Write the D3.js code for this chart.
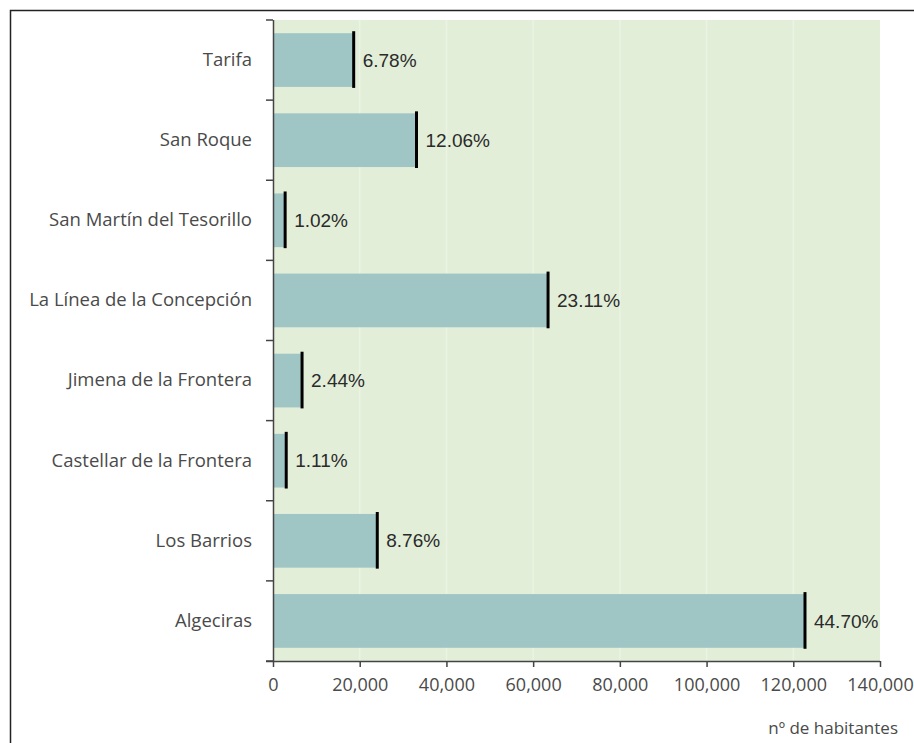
<!DOCTYPE html>
<html>
<head>
<meta charset="utf-8">
<script src="https://cdn.jsdelivr.net/npm/d3@7"></script>
<style>
  body { margin: 0; background: #fff; }
  svg { display: block; }
</style>
</head>
<body>
<div id="chart"></div>
<script>
// municipios del Campo de Gibraltar, de arriba a abajo
const municipios = ['Tarifa', 'San Roque', 'San Martín del Tesorillo', 'La Línea de la Concepción',
  'Jimena de la Frontera', 'Castellar de la Frontera', 'Los Barrios', 'Algeciras']
const habitantes = [18610, 33100, 2800, 63440, 6700, 3050, 24050, 122700]
const porcentajes = ['6.78%', '12.06%', '1.02%', '23.11%', '2.44%', '1.11%', '8.76%', '44.70%']
const xTicks = [0, 20000, 40000, 60000, 80000, 100000, 120000, 140000]

const W = 914, H = 743
const pLeft = 273, pRight = 880, pTop = 20, pBottom = 661

const svg = d3.select('#chart').append('svg')
  .attr('width', W).attr('height', H)

// marco exterior
svg.append('path')
  .attr('d', `M10.5,${H + 5} L10.5,10.5 L${W + 5},10.5`)
  .attr('fill', 'none').attr('stroke', '#222').attr('stroke-width', 1.5)

const x = d3.scaleLinear().domain([0, 140000]).range([pLeft, pRight])
const y = d3.scaleBand().domain(municipios).range([pTop, pBottom])
  .paddingInner(0.33).paddingOuter(0.165)

// fondo del área de trazado
svg.append('rect')
  .attr('x', pLeft).attr('y', pTop)
  .attr('width', pRight - pLeft).attr('height', pBottom - pTop)
  .attr('fill', '#e3eed9')

// líneas de cuadrícula
svg.append('g').selectAll('line')
  .data(xTicks.slice(1, -1)).enter()
  .append('line')
  .attr('x1', d => x(d)).attr('x2', d => x(d))
  .attr('y1', pTop).attr('y2', pBottom)
  .attr('stroke', '#eaf3e4').attr('stroke-width', 1.5)

// barras
svg.append('g').selectAll('rect')
  .data(municipios).enter()
  .append('rect')
  .attr('x', x(0))
  .attr('y', d => y(d))
  .attr('width', (d, i) => x(habitantes[i]) - x(0))
  .attr('height', y.bandwidth())
  .attr('fill', '#9fc5c4')

// marcas negras al final de cada barra
svg.append('g').selectAll('line')
  .data(municipios).enter()
  .append('line')
  .attr('x1', (d, i) => x(habitantes[i]))
  .attr('x2', (d, i) => x(habitantes[i]))
  .attr('y1', d => y(d) - 2)
  .attr('y2', d => y(d) + y.bandwidth() + 1)
  .attr('stroke', '#000').attr('stroke-width', 3)

// etiquetas de porcentaje
svg.append('g').selectAll('text')
  .data(municipios).enter()
  .append('text')
  .attr('x', (d, i) => x(habitantes[i]) + 9)
  .attr('y', d => y(d) + y.bandwidth() / 2)
  .attr('dy', '0.35em')
  .attr('font-family', 'Liberation Sans, Arial, sans-serif')
  .attr('font-size', 19)
  .attr('fill', '#2a2a2a')
  .text((d, i) => porcentajes[i])

// eje y
const yAxis = svg.append('g')
  .attr('transform', `translate(${pLeft},0)`)
  .call(d3.axisLeft(y).tickSize(0).tickPadding(21))
yAxis.select('.domain').attr('stroke', '#444').attr('stroke-width', 1.5)
  .attr('d', `M0.5,${pTop}V${pBottom}`)
yAxis.selectAll('text')
  .attr('font-family', 'Open Sans, sans-serif')
  .attr('font-size', 18.5)
  .attr('fill', '#4a4a4a')

// marcas entre categorías
const bounds = d3.range(municipios.length + 1).map(i => pTop + i * y.step())
svg.append('g').selectAll('line')
  .data(bounds).enter()
  .append('line')
  .attr('x1', pLeft - 7).attr('x2', pLeft)
  .attr('y1', d => d).attr('y2', d => d)
  .attr('stroke', '#444').attr('stroke-width', 1.5)

// eje x
const xAxis = svg.append('g')
  .attr('transform', `translate(0,${pBottom})`)
  .call(d3.axisBottom(x).tickValues(xTicks).tickFormat(d3.format(',')).tickSize(6).tickPadding(11))
xAxis.select('.domain').attr('stroke', '#444').attr('stroke-width', 1.5)
  .attr('d', `M${pLeft - 7},0.5H${pRight}`)
xAxis.selectAll('.tick line').attr('stroke', '#444').attr('stroke-width', 1.5)
xAxis.selectAll('text')
  .attr('font-family', 'Open Sans, sans-serif')
  .attr('font-size', 18)
  .attr('fill', '#4a4a4a')

svg.append('text')
  .attr('x', 898).attr('y', 734)
  .attr('text-anchor', 'end')
  .attr('font-family', 'Open Sans, sans-serif')
  .attr('font-size', 17)
  .attr('fill', '#4a4a4a')
  .text('nº de habitantes')
</script>
</body>
</html>
